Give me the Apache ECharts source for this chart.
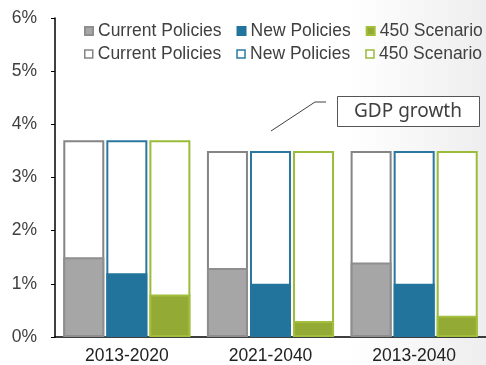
<!DOCTYPE html>
<html>
<head>
<meta charset="utf-8">
<script src="https://cdn.jsdelivr.net/npm/echarts@6/dist/echarts.min.js"></script>
<style>
html,body{margin:0;padding:0;background:#fff;}
#c{width:486px;height:365px;}
</style>
</head>
<body>
<div id="c"></div>
<script>
var categories = ['2013-2020', '2021-2040', '2013-2040'];
var yTicks = [0, 1, 2, 3, 4, 5, 6];
// Emission-related change (filled bars), % per year
var currentPolicies = [1.5, 1.3, 1.4];
var newPolicies = [1.2, 1.0, 1.0];
var scenario450 = [0.8, 0.3, 0.4];
// GDP growth (outline bars), % per year
var gdpCurrent = [3.7, 3.5, 3.5];
var gdpNew = [3.7, 3.5, 3.5];
var gdp450 = [3.7, 3.5, 3.5];

var chart = echarts.init(document.getElementById('c'), null, {renderer: 'canvas'});
var FONT = 'Liberation Sans, Arial, sans-serif';
var TXT = '#404040';
var SUF = ' (GDP)';

function outline(name, data, color) {
  return {
    name: name + SUF, type: 'bar', data: data, xAxisIndex: 0,
    barWidth: 41, barGap: '5%',
    itemStyle: {color: '#ffffff', borderColor: color, borderWidth: 2},
    emphasis: {disabled: true}, z: 2
  };
}
function filled(name, data, color, border) {
  return {
    name: name, type: 'bar', data: data, xAxisIndex: 1,
    barWidth: 41, barGap: '5%',
    itemStyle: {color: color, borderColor: border, borderWidth: 2},
    emphasis: {disabled: true}, z: 3
  };
}

var legendBase = {
  orient: 'horizontal', left: 84, width: 420, itemWidth: 8, itemHeight: 8, itemGap: 15,
  icon: 'rect', selectedMode: false, padding: 0,
  textStyle: {fontFamily: FONT, fontSize: 17.5, color: TXT},
  formatter: function (n) { return n.replace(SUF, ''); }
};

chart.setOption({
  animation: false,
  backgroundColor: {
    type: 'linear', x: 0, y: 0, x2: 1, y2: 0,
    colorStops: [{offset: 0, color: '#ffffff'}, {offset: 0.72, color: '#ffffff'}, {offset: 1, color: '#eeeeee'}]
  },
  legend: [
    Object.assign({}, legendBase, {top: 22, data: ['Current Policies', 'New Policies', '450 Scenario']}),
    Object.assign({}, legendBase, {top: 45, data: ['Current Policies' + SUF, 'New Policies' + SUF, '450 Scenario' + SUF],
      itemStyle: {borderWidth: 1.5}})
  ],
  grid: {left: 55, right: -6, top: 18, bottom: 28, containLabel: false},
  xAxis: [
    {type: 'category', data: categories,
      axisLine: {lineStyle: {color: '#000', width: 1.5}}, axisTick: {show: false},
      axisLabel: {fontFamily: FONT, fontSize: 17.5, color: '#222', margin: 10}},
    {type: 'category', data: categories, show: false}
  ],
  yAxis: {
    type: 'value', min: yTicks[0], max: yTicks[yTicks.length - 1], interval: 1,
    splitLine: {show: false},
    axisLine: {show: true, lineStyle: {color: '#000', width: 1.5}},
    axisTick: {show: true, length: 4, lineStyle: {color: '#000'}},
    axisLabel: {fontFamily: FONT, fontSize: 17.5, color: TXT, margin: 18, formatter: '{value}%'}
  },
  series: [
    outline('Current Policies', gdpCurrent, '#858585'),
    outline('New Policies', gdpNew, '#2a78a0'),
    outline('450 Scenario', gdp450, '#9bbb3a'),
    filled('Current Policies', currentPolicies, '#a6a6a6', '#8e8e8e'),
    filled('New Policies', newPolicies, '#23749c', '#23749c'),
    filled('450 Scenario', scenario450, '#93aa35', '#a2bf3c')
  ],
  graphic: [
    {type: 'polyline', shape: {points: [[271, 131], [315, 102], [326, 102]]},
      style: {stroke: '#404040', lineWidth: 1, fill: null}, z: 10},
    {type: 'rect', shape: {x: 337.5, y: 96.5, width: 142, height: 30},
      style: {fill: '#ffffff', stroke: '#555555', lineWidth: 1}, z: 10},
    {type: 'text', x: 408, y: 112, z: 11,
      style: {text: 'GDP growth', fontFamily: 'Noto Sans', fontSize: 19, fill: TXT,
        align: 'center', verticalAlign: 'middle'}}
  ]
});
</script>
</body>
</html>
